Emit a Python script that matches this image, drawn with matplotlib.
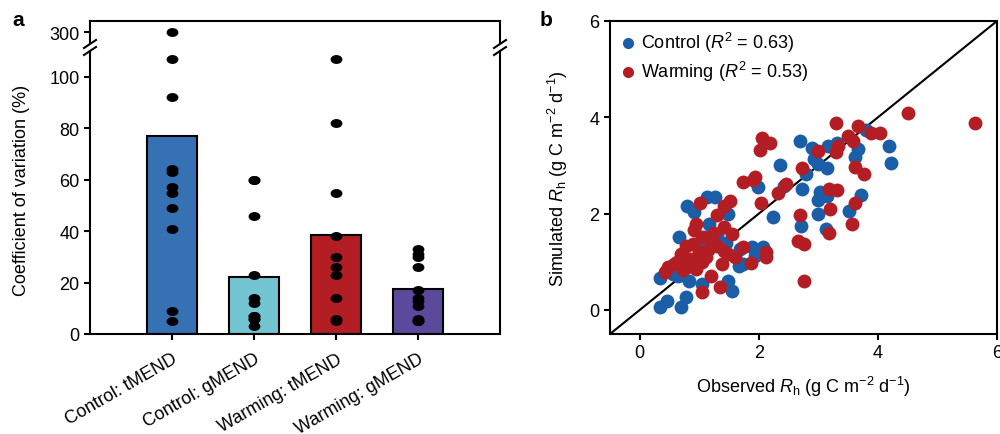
import matplotlib
matplotlib.use("Agg")
import matplotlib.pyplot as plt
from matplotlib.path import Path
from matplotlib.lines import Line2D
import numpy as np

plt.rcParams['font.family'] = ['Liberation Sans', 'DejaVu Sans']
plt.rcParams['mathtext.fontset'] = 'custom'
plt.rcParams['mathtext.rm'] = 'Liberation Sans'
plt.rcParams['mathtext.it'] = 'Liberation Sans:italic'
plt.rcParams['mathtext.bf'] = 'Liberation Sans:bold'
plt.rcParams['font.size'] = 13

# ---------------- data: panel a ----------------
categories = ["Control: tMEND", "Control: gMEND", "Warming: tMEND", "Warming: gMEND"]
bar_means = [77, 22.3, 38.5, 17.3]
bar_colors = ["#3571b3", "#72c5d1", "#b21e24", "#5b4a9b"]
cv_control_tmend = [300, 107, 92, 64, 63, 57, 55, 49, 41, 9, 5]
cv_control_gmend = [60, 60, 46, 23, 14, 12, 7, 7, 6, 6, 3]
cv_warming_tmend = [107, 82, 55, 38, 30, 26, 23, 14, 6, 5]
cv_warming_gmend = [33, 31, 30, 26, 17, 14, 13, 11, 6, 5, 5]
cv_points = [cv_control_tmend, cv_control_gmend, cv_warming_tmend, cv_warming_gmend]

# ---------------- data: panel b ----------------
control_obs = [4.19, 4.22, 3.80, 3.66, 3.61, 3.71, 3.32, 3.16, 2.89, 2.69, 2.92, 3.00, 3.14,
               2.36, 2.79, 1.99, 2.43, 2.73, 3.03, 3.00, 3.14, 3.52, 3.00, 2.71, 3.13, 2.23,
               0.79, 0.91, 1.13, 1.27, 1.48, 1.16, 0.66, 1.68, 1.66, 1.74, 0.34, 0.64, 0.83,
               1.05, 1.49, 1.55, 0.78, 0.45, 0.34, 0.69, 1.88, 2.07, 1.93, 1.10,
               0.55, 1.00, 1.30, 0.95, 1.45]
control_sim = [3.41, 3.05, 3.73, 3.34, 3.17, 2.39, 3.46, 3.41, 3.37, 3.51, 3.13, 3.03, 2.95,
               3.01, 2.82, 2.56, 2.58, 2.51, 2.44, 2.28, 2.37, 2.05, 1.99, 1.75, 1.68, 1.92,
               2.15, 2.04, 2.34, 2.35, 1.99, 1.78, 1.51, 1.27, 0.92, 0.95, 0.66, 0.71, 0.61,
               0.54, 0.61, 0.40, 0.26, 0.18, 0.07, 0.06, 1.30, 1.30, 1.13, 1.51,
               0.75, 1.30, 1.55, 0.95, 1.40]
warming_obs = [4.50, 5.63, 3.30, 3.67, 3.89, 4.03, 3.49, 3.58, 3.33, 3.30, 3.00, 2.06, 2.19,
               2.02, 2.72, 3.62, 3.77, 1.74, 1.90, 1.93, 2.45, 2.32, 3.17, 3.31, 2.03, 1.01,
               1.41, 1.52, 3.20, 3.61, 2.69, 3.57, 3.17, 2.65, 2.76, 1.29, 0.94, 0.91, 1.05,
               1.24, 1.41, 1.55, 0.78, 0.89, 0.69, 0.99, 1.11, 1.30, 1.41, 1.49, 1.60, 1.74,
               0.58, 0.47, 0.42, 0.72, 0.80, 0.94, 1.05, 1.19, 1.35, 1.05, 2.76, 2.12, 2.12,
               1.86, 0.62, 0.85, 1.20, 1.15, 1.38]
warming_sim = [4.09, 3.89, 3.89, 3.82, 3.68, 3.67, 3.62, 3.51, 3.41, 3.28, 3.31, 3.58, 3.46,
               3.33, 2.94, 2.97, 2.82, 2.65, 2.70, 2.75, 2.61, 2.43, 2.52, 2.50, 2.23, 2.23,
               2.16, 2.27, 2.10, 2.23, 1.97, 1.79, 1.59, 1.44, 1.37, 1.97, 1.78, 1.65, 1.51,
               1.59, 1.72, 1.58, 1.33, 1.37, 1.16, 1.20, 1.09, 1.33, 1.23, 1.16, 1.09, 1.31,
               0.95, 0.89, 0.78, 0.82, 0.89, 0.85, 0.99, 0.71, 0.47, 0.37, 0.60, 1.20, 1.09,
               0.97, 1.00, 1.05, 1.45, 1.25, 0.95]
legend_labels = ["Control ($R^2$ = 0.63)", "Warming ($R^2$ = 0.53)"]
scatter_colors = ["#1b5ea8", "#b31e25"]

W, H = 1000, 435
fig = plt.figure(figsize=(W / 100, H / 100), dpi=100)

def fx(px):
    return px / W

def fy(py):
    return 1 - py / H

LW = 1.5
TICK_KW = dict(direction='out', length=4.5, width=LW, labelsize=13, pad=3)

# ellipse marker for panel a dots
circ = Path.unit_circle()
ell = Path(circ.vertices * np.array([1.0, 0.72]), circ.codes)

# ---------------- panel a ----------------
axL = fig.add_axes([fx(90), fy(335), fx(500 - 90), (335 - 52) / H])
axU = fig.add_axes([fx(90), fy(44), fx(500 - 90), (44 - 22) / H])
xpos = np.arange(len(categories))
for ax in (axL, axU):
    ax.bar(xpos, bar_means, width=0.6, color=bar_colors, edgecolor='black', linewidth=LW, zorder=2)
    for i, vals in enumerate(cv_points):
        ax.plot([xpos[i]] * len(vals), vals, linestyle='none', marker=ell, markersize=7.5,
                color='black', zorder=3)
    ax.set_xlim(-1, 4)
    for s in ax.spines.values():
        s.set_linewidth(LW)
    ax.tick_params(**TICK_KW)

axL.set_ylim(0, 110)
axL.set_yticks([0, 20, 40, 60, 80, 100])
axL.spines['top'].set_visible(False)
axL.set_xticks(xpos)
axL.set_xticklabels(categories, rotation=30, ha='right', rotation_mode='anchor')
axL.tick_params(axis='x', length=4.5, pad=7)

axU.set_ylim(295, 305)
axU.set_yticks([300])
axU.spines['bottom'].set_visible(False)
axU.set_xticks([])

# break marks
for xb in (90, 500):
    for yb in (45, 52):
        fig.add_artist(Line2D([fx(xb - 6), fx(xb + 6)], [fy(yb + 4), fy(yb - 4)],
                              color='black', linewidth=LW, transform=fig.transFigure))

fig.text(fx(22), fy(190), "Coefficient of variation (%)", rotation=90,
         ha='center', va='center', fontsize=13)
fig.text(fx(12), fy(20), "a", fontsize=15, fontweight='bold', ha='left', va='center')

# ---------------- panel b ----------------
axb = fig.add_axes([fx(610), fy(335), fx(997 - 610), (335 - 22) / H])
axb.plot([-0.5, 6], [-0.5, 6], color='black', linewidth=LW, zorder=1)
axb.scatter(control_obs, control_sim, s=100, color=scatter_colors[0], linewidths=0, zorder=2,
            label=legend_labels[0])
axb.scatter(warming_obs, warming_sim, s=100, color=scatter_colors[1], linewidths=0, zorder=3,
            label=legend_labels[1])
axb.set_xlim(-0.5, 6)
axb.set_ylim(-0.5, 6)
axb.set_xticks([0, 2, 4, 6])
axb.set_yticks([0, 2, 4, 6])
for s in axb.spines.values():
    s.set_linewidth(LW)
axb.tick_params(**TICK_KW)
axb.set_xlabel(r"Observed $R_\mathrm{h}$ (g C m$^{-2}$ d$^{-1}$)", fontsize=13, labelpad=9)
axb.set_ylabel(r"Simulated $R_\mathrm{h}$ (g C m$^{-2}$ d$^{-1}$)", fontsize=13, labelpad=14)
axb.legend(loc='upper left', frameon=False, fontsize=13, handletextpad=0.2, handlelength=1.0,
           borderaxespad=0.2, labelspacing=0.25, markerscale=0.8, borderpad=0.3)
fig.text(fx(540), fy(20), "b", fontsize=15, fontweight='bold', ha='left', va='center')

fig.savefig("out.png", dpi=100)
